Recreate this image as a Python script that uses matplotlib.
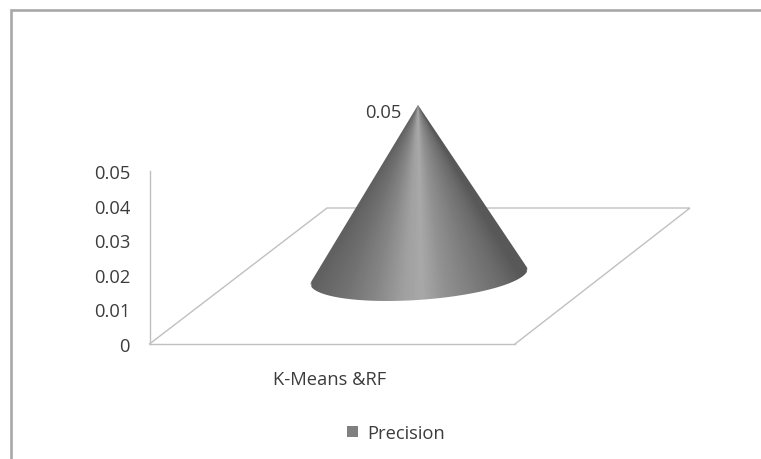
import numpy as np
import matplotlib
matplotlib.use("Agg")
import matplotlib.pyplot as plt
from matplotlib.patches import Patch, Polygon

categories = ["K-Means &RF"]
precision = [0.05]
series_name = "Precision"
y_ticks = [0, 0.01, 0.02, 0.03, 0.04, 0.05]
y_tick_labels = ["0", "0.01", "0.02", "0.03", "0.04", "0.05"]

W, H = 761, 460
Y0_PX, Y5_PX = 345.0, 172.0
PER_PX = 0.05 / (Y0_PX - Y5_PX)


def v(px):
    """Pixel row to value on the y scale."""
    return (Y0_PX - px) * PER_PX


plt.rcParams["font.family"] = ["Open Sans", "DejaVu Sans"]
TXT = "#3c3c3c"
FS = 13.2
fig = plt.figure(figsize=(W / 100, H / 100), dpi=100, facecolor="white")
ax = fig.add_axes([0, 0, 1, 1])
ax.set_facecolor("white")

# cone: base ellipse on the floor, height taken from the value
cx, cy = 419.0, 277.0
rx, dx, dy = 104.0, 32.0, 25.0
apex_base_px = 279.0
apex_x = 418.0
apex_px = apex_base_px - precision[0] / PER_PX

t = np.radians(np.linspace(0, 360, 721))
bx = cx + rx * np.cos(t) + dx * np.sin(t)
by = cy - dy * np.sin(t)
ang = np.arctan2(by - apex_px, bx - apex_x)
i_r, i_l = int(np.argmin(ang)), int(np.argmax(ang))
idx = np.arange(i_l, i_r + 721 if i_r < i_l else i_r) % 721
fx, fy = bx[idx], by[idx]
order = np.argsort(fx)
fx, fy = fx[order], fy[order]

# shading fans out from the apex
stops_x = np.array([310, 345, 375, 405, 422, 445, 475, 505, 528])
stops_g = np.array([0x60, 0x70, 0x84, 0xA0, 0xA8, 0x90, 0x7C, 0x6A, 0x58])
gx, gy = np.meshgrid(np.arange(300, 540) + 0.5, np.arange(100, 310) + 0.5)
base_x = apex_x + (gx - apex_x) * (290 - apex_px) / np.maximum(gy - apex_px, 0.5)
shade = np.interp(base_x, stops_x, stops_g)
img = ax.imshow(shade, cmap="gray", vmin=0, vmax=255, aspect="auto", zorder=3,
                interpolation="bilinear", extent=(300, 540, v(310), v(100)))
cone = Polygon(np.column_stack([np.r_[apex_x, fx], np.r_[v(apex_px), v(fy)]]),
               closed=True, transform=ax.transData, facecolor="none", edgecolor="none")
ax.add_patch(cone)
img.set_clip_path(cone)

ax.set_xlim(0, W)
ax.set_ylim(v(H), v(0))

# y axis wall and front floor edge through real axes
for s in ("top", "right"):
    ax.spines[s].set_visible(False)
ax.spines["left"].set_position(("data", 149.5))
ax.spines["left"].set_bounds(0, 0.05)
ax.spines["bottom"].set_position(("data", 0))
ax.spines["bottom"].set_bounds(149.5, 515)
for s in ("left", "bottom"):
    ax.spines[s].set_color("#c0c0c0")
    ax.spines[s].set_linewidth(1.0)
ax.set_yticks(y_ticks, y_tick_labels)
ax.set_xticks([330], categories)
ax.tick_params(axis="y", length=0, pad=14, labelsize=FS, labelcolor=TXT)
ax.tick_params(axis="x", length=0, pad=18.5, labelsize=FS, labelcolor=TXT)

# floor parallelogram (back and side edges)
ax.plot([149.5, 327, 690, 515], [v(345), v(209), v(209), v(345)],
        color="#c0c0c0", lw=1.0, zorder=1, solid_joinstyle="miter")

# outer frame
ax.plot([10.5, 10.5, W], [v(H), v(11), v(11)], color="#a8a8a8", lw=1.9, zorder=1,
        solid_joinstyle="miter", clip_on=False)

ax.text(402, precision[0] + v(113) - 0.05, f"{precision[0]:.2f}", ha="right", va="center",
        fontsize=FS, color=TXT, zorder=4)

ax.legend(handles=[Patch(facecolor="#808080", edgecolor="none", label=series_name)],
          loc="center", bbox_to_anchor=(396 / W, 1 - 434 / H), frameon=False,
          fontsize=FS, labelcolor=TXT, handlelength=0.62, handleheight=0.62,
          handletextpad=0.5, borderpad=0, borderaxespad=0)

fig.savefig("out.png", dpi=100, facecolor="white")
